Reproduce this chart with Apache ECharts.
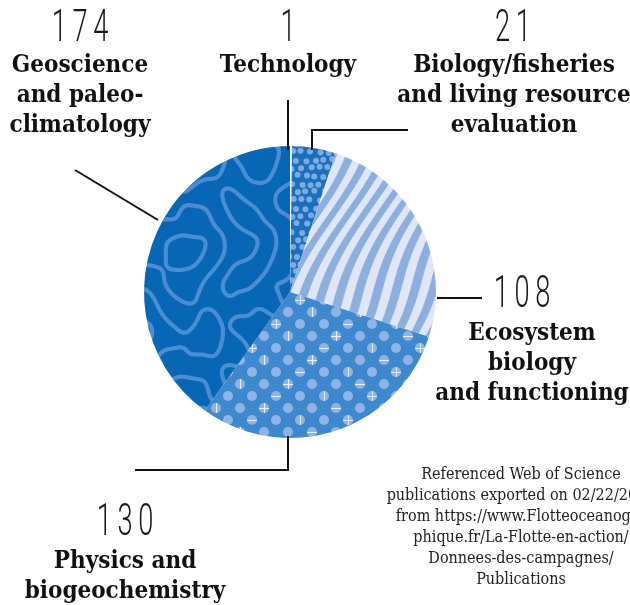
<!DOCTYPE html>
<html>
<head>
<meta charset="utf-8">
<script src="https://cdn.jsdelivr.net/npm/echarts@6/dist/echarts.min.js"></script>
<style>
  html, body { margin: 0; padding: 0; background: #fff; }
  #main { width: 630px; height: 605px; }
</style>
</head>
<body>
<div id="main"></div>
<script>
// publications per field
var names = ['Technology', 'Biology/fisheries and living resource evaluation', 'Ecosystem biology and functioning', 'Physics and biogeochemistry', 'Geoscience and paleoclimatology'];
var values = [1, 21, 108, 130, 174];
var labelText = [
  'Technology',
  'Biology/fisheries\nand living resource\nevaluation',
  'Ecosystem\nbiology\nand functioning',
  'Physics and\nbiogeochemistry',
  'Geoscience\nand paleo-\nclimatology'
];
var noteText = 'Referenced Web of Science\npublications exported on 02/22/2022\nfrom https://www.Flotteoceanogra\nphique.fr/La-Flotte-en-action/\nDonnees-des-campagnes/\nPublications';

var W = 630, H = 605;

function mkCanvas() {
  var c = document.createElement('canvas');
  c.width = W; c.height = H;
  return c;
}
function hex(h) {
  return [parseInt(h.substr(1,2),16), parseInt(h.substr(3,2),16), parseInt(h.substr(5,2),16)];
}

// dotted pattern for biology
function bioPattern() {
  var c = mkCanvas(), g = c.getContext('2d');
  g.fillStyle = '#1a70bd'; g.fillRect(0, 0, W, H);
  g.fillStyle = '#7eaadf';
  for (var j = 0; j < H / 8 + 1; j++) {
    for (var i = 0; i < W / 9 + 1; i++) {
      var x = i * 9 + (j % 2) * 4.5 + 1.2 * Math.sin(i * 1.7 + j * 0.9);
      var y = j * 8 + 1.2 * Math.cos(i * 0.8 + j * 2.1);
      g.beginPath(); g.arc(x, y, 3, 0, Math.PI * 2); g.fill();
    }
  }
  return c;
}

// wavy stripes for ecosystem
function ecoPattern() {
  var c = mkCanvas(), g = c.getContext('2d');
  var img = g.createImageData(W, H), d = img.data;
  var a = hex('#dfe7f6'), b = hex('#8cafdf');
  for (var y = 0; y < H; y++) {
    for (var x = 0; x < W; x++) {
      var u = x + 0.5 * y - 7 * Math.sin((y - 140) / 28 + (x - 300) / 90);
      var s = Math.sin(2 * Math.PI * u / 17);
      var t = Math.max(0, Math.min(1, 0.5 + s * 2.5));
      var k = (y * W + x) * 4;
      d[k] = a[0] * t + b[0] * (1 - t);
      d[k+1] = a[1] * t + b[1] * (1 - t);
      d[k+2] = a[2] * t + b[2] * (1 - t);
      d[k+3] = 255;
    }
  }
  g.putImageData(img, 0, 0);
  return c;
}

// dots with crosses for physics
function physPattern() {
  var c = mkCanvas(), g = c.getContext('2d');
  g.fillStyle = '#3e88cd'; g.fillRect(0, 0, W, H);
  for (var j = 0; j < H / 12 + 1; j++) {
    for (var i = 0; i < W / 24 + 1; i++) {
      var x = i * 24 + (j % 2) * 12, y = j * 12;
      g.fillStyle = '#8fb4e4';
      g.beginPath(); g.arc(x, y, 5, 0, Math.PI * 2); g.fill();
      var k = (i * 3 + j * 5) % 7;
      g.strokeStyle = '#e8f0fb'; g.lineWidth = 1;
      g.beginPath();
      if (k === 0 || k === 1) { g.moveTo(x + 0.5, y - 5); g.lineTo(x + 0.5, y + 5); }
      if (k === 0 || k === 2) { g.moveTo(x - 5, y + 0.5); g.lineTo(x + 5, y + 0.5); }
      g.stroke();
    }
  }
  return c;
}

// maze-like lines for geoscience
function geoPattern() {
  var c = mkCanvas(), g = c.getContext('2d');
  var img = g.createImageData(W, H), d = img.data;
  var a = hex('#0767b4'), b = hex('#4a8dd3');
  function f(x, y) {
    return Math.sin(x / 8.5 + 1.7 * Math.sin(y / 14)) +
      Math.sin(y / 9 + 1.7 * Math.sin(x / 12 + 2)) +
      0.9 * Math.sin((x + 2 * y) / 18 + 1.5 * Math.cos(x / 25)) +
      0.5 * Math.sin((2 * x - y) / 15);
  }
  for (var y = 0; y < H; y++) {
    for (var x = 0; x < W; x++) {
      var v = f(x, y);
      var gx = f(x + 0.5, y) - f(x - 0.5, y);
      var gy = f(x, y + 0.5) - f(x, y - 0.5);
      var dist = Math.abs(v) / (Math.sqrt(gx * gx + gy * gy) + 1e-6);
      var t = Math.max(0, Math.min(1, 2.6 - dist));
      var k = (y * W + x) * 4;
      d[k] = b[0] * t + a[0] * (1 - t);
      d[k+1] = b[1] * t + a[1] * (1 - t);
      d[k+2] = b[2] * t + a[2] * (1 - t);
      d[k+3] = 255;
    }
  }
  g.putImageData(img, 0, 0);
  return c;
}

var fills = [
  '#eef3fb',
  { image: bioPattern(), repeat: 'no-repeat' },
  { image: ecoPattern(), repeat: 'no-repeat' },
  { image: physPattern(), repeat: 'no-repeat' },
  { image: geoPattern(), repeat: 'no-repeat' }
];

var pieData = values.map(function (v, i) {
  return { name: names[i], value: v, itemStyle: { color: fills[i] } };
});

// label anchors: [number x, number y, text x, text top]
var pos = [
  [288, 30, 288, 51],
  [513, 30, 514, 51],
  [522, 296, 532, 319],
  [125, 524, 125, 547],
  [80, 30, 80, 51]
];

var numFont = '300 44px Roboto, "Liberation Sans Narrow", sans-serif';
var lblFont = 'bold 24px "DejaVu Serif Condensed", "DejaVu Serif", serif';

var graphics = [];
values.forEach(function (v, i) {
  graphics.push({
    type: 'text', silent: true,
    x: pos[i][0], y: pos[i][1], scaleX: 0.62,
    style: { text: String(v).split('').join('\u2009'), x: 0, y: 0, font: numFont, fill: '#1a1a1a', textAlign: 'center', textVerticalAlign: 'middle' }
  });
  graphics.push({
    type: 'text', silent: true,
    style: { text: labelText[i], x: pos[i][2], y: pos[i][3], font: lblFont, lineHeight: 30, fill: '#111', textAlign: 'center', textVerticalAlign: 'top' }
  });
});

// leader lines
var leaders = [
  [[288, 100], [288, 150]],
  [[408, 130], [312, 130], [312, 150]],
  [[437, 298], [482, 298]],
  [[288, 436], [288, 470], [135, 470]],
  [[75, 170], [158, 220]]
];
leaders.forEach(function (pts) {
  graphics.push({
    type: 'polyline', silent: true, z: 10,
    shape: { points: pts },
    style: { stroke: '#111', lineWidth: 2, fill: null }
  });
});

graphics.push({
  type: 'text', silent: true,
  style: { text: noteText, x: 521, y: 464, font: '16px "DejaVu Serif Condensed", "Liberation Serif", serif', lineHeight: 21, fill: '#222', textAlign: 'center', textVerticalAlign: 'top' }
});

var chart = echarts.init(document.getElementById('main'), null, { renderer: 'canvas' });
chart.setOption({
  animation: false,
  graphic: graphics,
  series: [{
    type: 'pie',
    center: [290, 292],
    radius: 146,
    startAngle: 90,
    clockwise: true,
    silent: true,
    label: { show: false },
    labelLine: { show: false },
    itemStyle: { borderWidth: 0 },
    data: pieData
  }]
});
</script>
</body>
</html>
